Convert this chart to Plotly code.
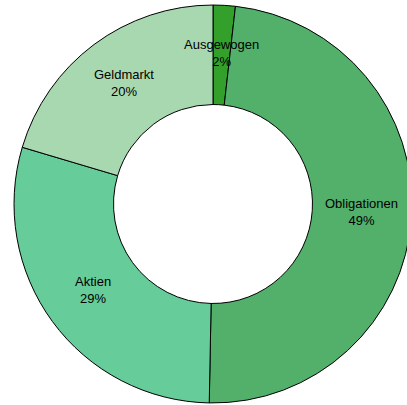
import math
import plotly.graph_objects as go

labels = ["Ausgewogen", "Obligationen", "Aktien", "Geldmarkt"]
values = [1.8, 48.5, 29.3, 20.4]
colors = ["#33a02c", "#52b06b", "#66cc99", "#a8d8b0"]

W, H = 426, 408
CX, CY = 213, 204  # pie centre in px (domain below)
R_LABEL = 149

fig = go.Figure(go.Pie(
    labels=labels,
    values=values,
    hole=0.5,
    sort=False,
    direction="clockwise",
    rotation=0,
    marker=dict(colors=colors, line=dict(color="black", width=1)),
    textinfo="none",
    domain=dict(x=[0, 1], y=[0.0123, 0.9877]),
    showlegend=False,
    hoverinfo="label+percent",
))

total = sum(values)
cum = 0.0
annotations = []
for lab, v in zip(labels, values):
    mid = (cum + v / 2) / total * 2 * math.pi
    cum += v
    px = CX + R_LABEL * math.sin(mid)
    py = CY - R_LABEL * math.cos(mid) - 2
    annotations.append(dict(
        x=px / W, y=1 - py / H, xref="paper", yref="paper",
        text=f"{lab}<br>{int(v / total * 100 + 0.5)}%",
        showarrow=False, xanchor="center", yanchor="middle",
        font=dict(family="Liberation Sans, Arial, sans-serif", size=13, color="black"),
    ))

fig.update_layout(
    width=W, height=H,
    margin=dict(l=0, r=0, t=0, b=0),
    paper_bgcolor="white", plot_bgcolor="white",
    annotations=annotations,
)
fig.write_html(
    "out.html",
    config={"displayModeBar": False},
    post_script="document.body.style.margin='0';document.body.style.overflow='hidden';",
)
